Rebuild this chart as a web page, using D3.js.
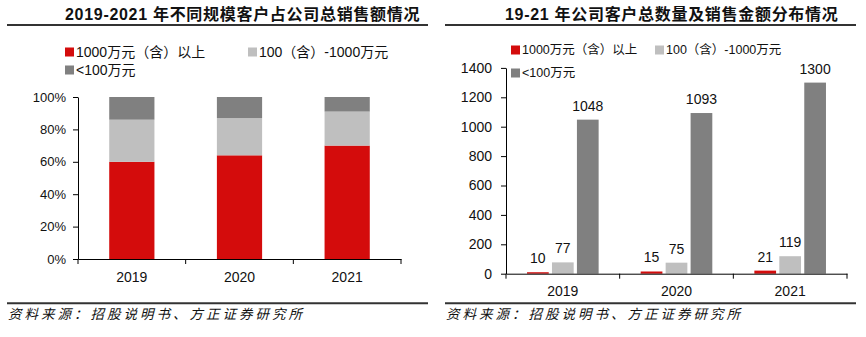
<!DOCTYPE html>
<html><head><meta charset="utf-8">
<script src="https://cdn.jsdelivr.net/npm/d3@7/dist/d3.min.js"></script>
<style>
html,body{margin:0;padding:0;background:#fff;}
svg{display:block;font-family:"Liberation Sans","Noto Sans CJK SC",sans-serif;}
</style></head>
<body><svg id="c" width="866" height="337"></svg>
<script>
// ---- data ----
const years = ["2019","2020","2021"];
const seriesNames = ["1000万元（含）以上","100（含）-1000万元","<100万元"];
const colors = ["#D40C0C","#BFBFBF","#808080"];
// left: share of sales (%)
const shareTop = [60,64,70];
const shareMid = [26,23,21];
const shareLow = [14,13,9];
const leftTicks = [0,20,40,60,80,100];
// right: customer counts
const cntTop = [10,15,21];
const cntMid = [77,75,119];
const cntLow = [1048,1093,1300];
const rightTicks = [0,200,400,600,800,1000,1200,1400];
const titleLeft = "2019-2021 年不同规模客户占公司总销售额情况";
const titleRight = "19-21 年公司客户总数量及销售金额分布情况";
const sourceText = "资料来源：招股说明书、方正证券研究所";

const svg = d3.select("#c");

function frame(x0, x1, tx, title){
  svg.append("text").attr("x",tx).attr("y",20).attr("font-size",16).attr("font-weight",600)
    .attr("letter-spacing",0.7).attr("fill","#111").text(title);
  svg.append("line").attr("x1",x0).attr("x2",x1).attr("y1",25).attr("y2",25).attr("stroke","#333").attr("stroke-width",2);
  svg.append("line").attr("x1",x0).attr("x2",x1).attr("y1",303.3).attr("y2",303.3).attr("stroke","#333").attr("stroke-width",2);
  svg.append("text").attr("x",x0+1).attr("y",319).attr("font-size",13.5).attr("font-style","italic")
    .attr("letter-spacing",3).attr("fill","#111").text(sourceText);
}
frame(7,428,65,titleLeft);
frame(445,856,505,titleRight);

function legendItem(x,y,i,fs){
  svg.append("rect").attr("x",x).attr("y",y-4.5).attr("width",9).attr("height",9).attr("fill",colors[i]);
  svg.append("text").attr("x",x+11).attr("y",y).attr("dy","0.35em").attr("font-size",fs).attr("fill","#111").text(seriesNames[i]);
}
legendItem(65,52,0,14); legendItem(248,52,1,14); legendItem(65,70,2,14);
legendItem(511,50,0,12.5); legendItem(655,50,1,12.5); legendItem(511,73,2,12.5);

function boundaries(x){
  const b=[x.range()[0]];
  x.domain().forEach(d=>b.push(x(d)+x.bandwidth()+x.step()*x.paddingInner()/2));
  b[b.length-1]=x.range()[1];
  return b;
}
function xAxis(x, yPos, pad){
  const g=svg.append("g").attr("transform",`translate(0,${yPos})`)
    .call(d3.axisBottom(x).tickSize(0).tickPadding(pad).tickSizeOuter(0));
  g.select(".domain").attr("stroke","#000");
  g.selectAll("text").attr("font-size",14).attr("fill","#111").attr("font-family","Liberation Sans");
  g.selectAll(".bt").data(boundaries(x)).join("line").attr("class","bt")
    .attr("x1",d=>d).attr("x2",d=>d).attr("y1",0).attr("y2",5).attr("stroke","#000");
}

// ---- left chart ----
{
  const x = d3.scaleBand().domain(years).range([78,401]).paddingInner(0.58).paddingOuter(0.29);
  const y = d3.scaleLinear().domain([0,100]).range([259,97]);
  const stackData = years.map((yr,i)=>({year:yr, a:shareTop[i], b:shareMid[i], c:shareLow[i]}));
  const stack = d3.stack().keys(["a","b","c"])(stackData);
  svg.append("g").selectAll("g").data(stack).join("g").attr("fill",(d,i)=>colors[i])
    .selectAll("rect").data(d=>d).join("rect")
    .attr("x",d=>x(d.data.year)).attr("width",x.bandwidth())
    .attr("y",d=>y(d[1])).attr("height",d=>y(d[0])-y(d[1]));
  const ga=svg.append("g").attr("transform","translate(78,0)")
    .call(d3.axisLeft(y).tickValues(leftTicks).tickFormat(d=>d+"%").tickSize(5).tickPadding(7).tickSizeOuter(0));
  ga.selectAll("line,path").attr("stroke","#000");
  ga.selectAll("text").attr("font-size",13).attr("fill","#111");
  xAxis(x,259,13);
}

// ---- right chart ----
{
  const x0 = d3.scaleBand().domain(years).range([506,847]).paddingInner(0.37).paddingOuter(0.185);
  const x1 = d3.scaleBand().domain([0,1,2]).range([0,x0.bandwidth()]).paddingInner(0.13);
  const y = d3.scaleLinear().domain([0,1400]).range([273.7,67.9]);
  const vals=[cntTop,cntMid,cntLow];
  const data=[];
  years.forEach((yr,i)=>vals.forEach((s,k)=>data.push({year:yr,k,v:s[i]})));
  svg.append("g").selectAll("rect").data(data).join("rect")
    .attr("x",d=>x0(d.year)+x1(d.k)).attr("width",x1.bandwidth())
    .attr("y",d=>y(d.v)).attr("height",d=>y(0)-y(d.v)).attr("fill",d=>colors[d.k]);
  svg.append("g").selectAll("text").data(data).join("text")
    .attr("x",d=>x0(d.year)+x1(d.k)+x1.bandwidth()/2).attr("y",d=>y(d.v)-9)
    .attr("text-anchor","middle").attr("font-size",14).attr("fill","#111").text(d=>d.v);
  const ga=svg.append("g").attr("transform","translate(506,0)")
    .call(d3.axisLeft(y).tickValues(rightTicks).tickFormat(d3.format("d")).tickSize(5).tickPadding(9).tickSizeOuter(0));
  ga.selectAll("line,path").attr("stroke","#000");
  ga.selectAll("text").attr("font-size",14).attr("fill","#111");
  xAxis(x0,273.7,12);
}
</script></body></html>
